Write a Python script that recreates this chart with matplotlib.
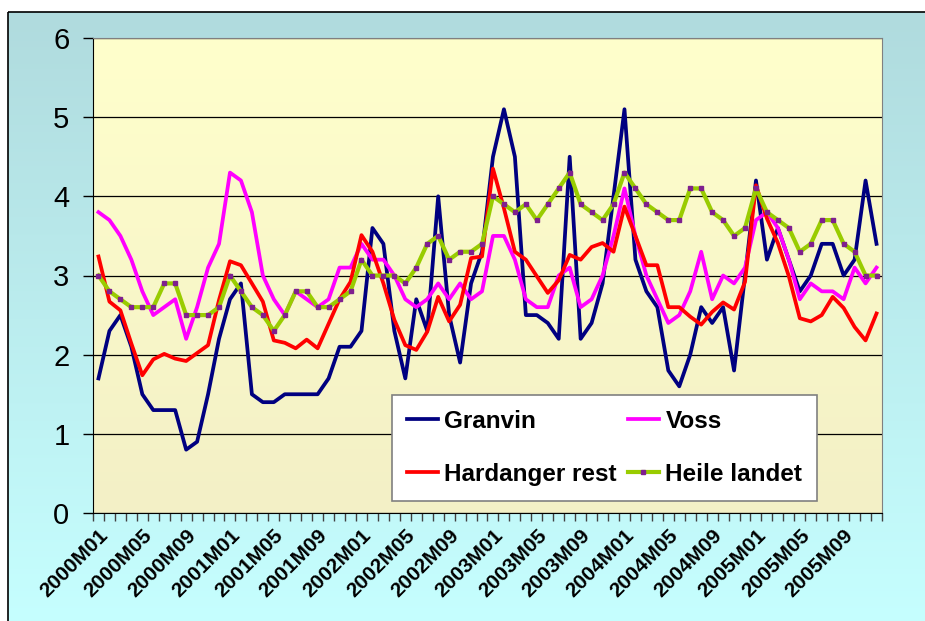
import numpy as np
import matplotlib
matplotlib.use("Agg")
import matplotlib.pyplot as plt
from matplotlib.patches import Rectangle

plt.rcParams['font.family'] = ['Liberation Sans', 'DejaVu Sans']

# monthly values 2000M01 .. 2005M12
months = [f"{y}M{m:02d}" for y in range(2000, 2006) for m in range(1, 13)]

granvin = [1.7, 2.3, 2.5, 2.1, 1.5, 1.3, 1.3, 1.3, 0.8, 0.9, 1.5, 2.2,
           2.7, 2.9, 1.5, 1.4, 1.4, 1.5, 1.5, 1.5, 1.5, 1.7, 2.1, 2.1,
           2.3, 3.6, 3.4, 2.3, 1.7, 2.7, 2.3, 4.0, 2.5, 1.9, 2.9, 3.3,
           4.5, 5.1, 4.5, 2.5, 2.5, 2.4, 2.2, 4.5, 2.2, 2.4, 2.9, 4.0,
           5.1, 3.2, 2.8, 2.6, 1.8, 1.6, 2.0, 2.6, 2.4, 2.6, 1.8, 3.0,
           4.2, 3.2, 3.6, 3.2, 2.8, 3.0, 3.4, 3.4, 3.0, 3.2, 4.2, 3.4]

voss = [3.8, 3.7, 3.5, 3.2, 2.8, 2.5, 2.6, 2.7, 2.2, 2.6, 3.1, 3.4,
        4.3, 4.2, 3.8, 3.0, 2.7, 2.5, 2.8, 2.7, 2.6, 2.7, 3.1, 3.1,
        3.4, 3.2, 3.2, 3.0, 2.7, 2.6, 2.7, 2.9, 2.7, 2.9, 2.7, 2.8,
        3.5, 3.5, 3.2, 2.7, 2.6, 2.6, 3.0, 3.1, 2.6, 2.7, 3.0, 3.5,
        4.1, 3.5, 3.0, 2.7, 2.4, 2.5, 2.8, 3.3, 2.7, 3.0, 2.9, 3.1,
        3.7, 3.8, 3.6, 3.2, 2.7, 2.9, 2.8, 2.8, 2.7, 3.1, 2.9, 3.1]

hardanger = [3.24, 2.67, 2.56, 2.14, 1.74, 1.94, 2.01, 1.95, 1.92, 2.02, 2.12, 2.69,
             3.18, 3.13, 2.90, 2.67, 2.18, 2.15, 2.08, 2.19, 2.08, 2.39, 2.70, 2.92,
             3.51, 3.30, 2.90, 2.44, 2.12, 2.06, 2.29, 2.73, 2.42, 2.63, 3.22, 3.24,
             4.35, 3.85, 3.30, 3.20, 2.99, 2.78, 2.94, 3.26, 3.20, 3.36, 3.41, 3.30,
             3.87, 3.50, 3.13, 3.13, 2.60, 2.60, 2.48, 2.38, 2.54, 2.66, 2.57, 2.92,
             4.14, 3.72, 3.41, 2.99, 2.46, 2.42, 2.50, 2.73, 2.59, 2.35, 2.18, 2.52]

heile = [3.0, 2.8, 2.7, 2.6, 2.6, 2.6, 2.9, 2.9, 2.5, 2.5, 2.5, 2.6,
         3.0, 2.8, 2.6, 2.5, 2.3, 2.5, 2.8, 2.8, 2.6, 2.6, 2.7, 2.8,
         3.2, 3.0, 3.0, 3.0, 2.9, 3.1, 3.4, 3.5, 3.2, 3.3, 3.3, 3.4,
         4.0, 3.9, 3.8, 3.9, 3.7, 3.9, 4.1, 4.3, 3.9, 3.8, 3.7, 3.9,
         4.3, 4.1, 3.9, 3.8, 3.7, 3.7, 4.1, 4.1, 3.8, 3.7, 3.5, 3.6,
         4.1, 3.8, 3.7, 3.6, 3.3, 3.4, 3.7, 3.7, 3.4, 3.3, 3.0, 3.0]

W, H = 925, 621
fig = plt.figure(figsize=(W / 100, H / 100), dpi=100)
fig.patch.set_facecolor('white')

# outer background (teal -> cyan gradient) with thin black frame
bg = fig.add_axes([0, 0, 1, 1])
bg.set_axis_off()
bg.set_xlim(0, W)
bg.set_ylim(H, 0)
grad = np.linspace(0, 1, 256).reshape(-1, 1)
top_c = np.array([176, 219, 222]) / 255
bot_c = np.array([198, 255, 255]) / 255
img = top_c + (bot_c - top_c) * grad[:, :, None]
bg.imshow(img, extent=[8, W + 5, H + 5, 12], aspect='auto', zorder=0)
bg.add_patch(Rectangle((8, 12), W, H, fill=False, ec='black', lw=1.2, zorder=1))

ax = fig.add_axes([93 / W, 1 - 513 / H, (882 - 93) / W, (513 - 38) / H])
ax.set_facecolor('none')

# plot area gradient (light yellow)
p_top = np.array([255, 255, 204]) / 255
p_bot = np.array([243, 240, 198]) / 255
pimg = p_top + (p_bot - p_top) * grad[:, :, None]
ax.imshow(pimg, extent=[0, 1, 0, 1], transform=ax.transAxes, aspect='auto', zorder=0)

x = np.arange(len(months))
ax.plot(x, granvin, color='#000080', lw=2.7, label='Granvin', zorder=3)
ax.plot(x, voss, color='#FF00FF', lw=2.7, label='Voss', zorder=3)
ax.plot(x, hardanger, color='#FF0000', lw=2.7, label='Hardanger rest', zorder=3)
ax.plot(x, heile, color='#99CC00', lw=3.0, marker='s', ms=2.3,
        mfc='#7F1F8F', mec='#7F1F8F', label='Heile landet', zorder=3)

ax.set_xlim(-0.5, len(months) - 0.5)
ax.set_ylim(0, 6)
ax.set_yticks(range(7))
ax.tick_params(axis='y', labelsize=21, length=7, width=1, pad=10, direction='out')
ax.yaxis.grid(True, color='black', lw=0.9, zorder=1)
ax.set_axisbelow(True)

ax.set_xticks(np.arange(-0.5, len(months), 1))
ax.set_xticklabels([])
ax.tick_params(axis='x', which='major', length=6, width=1, color='#404040', direction='out')
ax.set_xticks(x[::4], minor=True)
ax.set_xticklabels(months[::4], minor=True, rotation=45, ha='right',
                   rotation_mode='anchor', fontsize=15, fontweight='bold')
ax.tick_params(axis='x', which='minor', length=0, pad=9)

for s in ['top', 'right']:
    ax.spines[s].set_color('#808080')
ax.spines['left'].set_color('black')
ax.spines['bottom'].set_color('black')

h, l = ax.get_legend_handles_labels()
order = [0, 2, 1, 3]
leg = ax.legend([h[i] for i in order], [l[i] for i in order], ncol=2,
                loc='upper left', bbox_to_anchor=((392 - 93) / 789, (513 - 395) / 475),
                borderaxespad=0, fancybox=False, framealpha=1, edgecolor='#808080',
                prop={'weight': 'bold', 'size': 17.5}, handlelength=1.3,
                handletextpad=0.25, columnspacing=0.45, labelspacing=1.25,
                borderpad=0.6)
leg.get_frame().set_linewidth(1.2)
leg.set_zorder(5)

fig.savefig('out.png', dpi=100)
